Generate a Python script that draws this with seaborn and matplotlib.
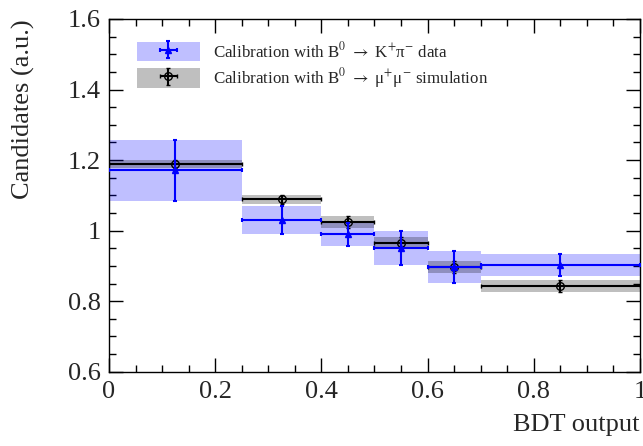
import numpy as np
import pandas as pd
import matplotlib
matplotlib.use("Agg")
import matplotlib.pyplot as plt
from matplotlib.patches import Patch
from matplotlib.legend_handler import HandlerTuple
from matplotlib.ticker import MultipleLocator
import seaborn as sns

# Bin edges of the BDT output
bin_edges = [0.0, 0.25, 0.4, 0.5, 0.6, 0.7, 1.0]

# Calibration with B0 -> K+ pi- data
kpi_values = [1.171, 1.029, 0.990, 0.951, 0.896, 0.903]
kpi_errors = [0.086, 0.040, 0.033, 0.048, 0.045, 0.031]

# Calibration with B0 -> mu+ mu- simulation
mumu_values = [1.189, 1.089, 1.024, 0.966, 0.898, 0.844]
mumu_errors = [0.012, 0.0125, 0.017, 0.015, 0.017, 0.017]

kpi_label = r"Calibration with B$^{0}$ $\rightarrow$ K$^{+}$π$^{-}$ data"
mumu_label = r"Calibration with B$^{0}$ $\rightarrow$ μ$^{+}$μ$^{-}$ simulation"

edges = np.array(bin_edges)
centers = 0.5 * (edges[:-1] + edges[1:])
half_widths = 0.5 * np.diff(edges)

df = pd.DataFrame({
    "left": edges[:-1],
    "width": np.diff(edges),
    "center": centers,
    "half": half_widths,
    "kpi": kpi_values,
    "kpi_err": kpi_errors,
    "mumu": mumu_values,
    "mumu_err": mumu_errors,
})

sns.set_style("ticks")
plt.rcParams["font.family"] = ["Liberation Serif", "DejaVu Serif"]
plt.rcParams["mathtext.fontset"] = "stix"

fig = plt.figure(figsize=(6.43, 4.46), dpi=100)
ax = fig.add_axes([0.1695, 0.1666, 0.8258, 0.7908])

band_blue = (0.0, 0.0, 1.0, 0.25)
band_grey = (0.0, 0.0, 0.0, 0.25)

# Uncertainty bands
ax.bar(df["left"], 2 * df["kpi_err"], bottom=df["kpi"] - df["kpi_err"],
       width=df["width"], align="edge", color=band_blue, linewidth=0, zorder=1)
ax.bar(df["left"], 2 * df["mumu_err"], bottom=df["mumu"] - df["mumu_err"],
       width=df["width"], align="edge", color=band_grey, linewidth=0, zorder=2)

# Points with bin-width horizontal bars
eb_mumu = ax.errorbar(df["center"], df["mumu"], xerr=df["half"], yerr=df["mumu_err"],
                      fmt="o", color="black", mfc="none", mec="black", ms=5.5, mew=1.0,
                      lw=1.5, capsize=1.6, capthick=1.5, zorder=3)
eb_kpi = ax.errorbar(df["center"], df["kpi"], xerr=df["half"], yerr=df["kpi_err"],
                     fmt="^", color="blue", mfc="blue", mec="blue", ms=4.5,
                     lw=1.5, capsize=1.6, capthick=1.5, zorder=4)

ax.set_xlim(0, 1)
ax.set_ylim(0.6, 1.6)
ax.xaxis.set_minor_locator(MultipleLocator(0.05))
ax.yaxis.set_minor_locator(MultipleLocator(0.05))
ax.set_xticks([0, 0.2, 0.4, 0.6, 0.8, 1.0])
ax.set_xticklabels(["0", "0.2", "0.4", "0.6", "0.8", "1"])
ax.set_yticks([0.6, 0.8, 1.0, 1.2, 1.4, 1.6])
ax.set_yticklabels(["0.6", "0.8", "1", "1.2", "1.4", "1.6"])

ax.tick_params(which="both", direction="in", top=True, right=True, width=1.0, color="black")
ax.tick_params(which="major", length=10, labelsize=19)
ax.tick_params(axis="x", which="major", pad=7)
ax.tick_params(axis="y", which="major", pad=6)
ax.tick_params(which="minor", length=5)
for sp in ax.spines.values():
    sp.set_linewidth(1.0)
    sp.set_color("black")
    sp.set_visible(True)

ax.set_xlabel("BDT output", fontsize=19, loc="right")
ax.xaxis.set_label_coords(1.0, -0.12)
ax.set_ylabel("Candidates (a.u.)", fontsize=19, loc="top")
ax.yaxis.set_label_coords(-0.139, 1.0)

handles = [(Patch(facecolor=band_blue, linewidth=0), eb_kpi),
           (Patch(facecolor=band_grey, linewidth=0), eb_mumu)]
leg = ax.legend(handles, [kpi_label, mumu_label],
                handler_map={tuple: HandlerTuple(ndivide=1, pad=0)},
                loc="upper left", bbox_to_anchor=(0.0527, 0.937),
                frameon=False, fontsize=12.2, borderpad=0, borderaxespad=0,
                handlelength=3.7, handleheight=1.4, handletextpad=0.78,
                labelspacing=0.3)

fig.savefig("out.png", dpi=100)
